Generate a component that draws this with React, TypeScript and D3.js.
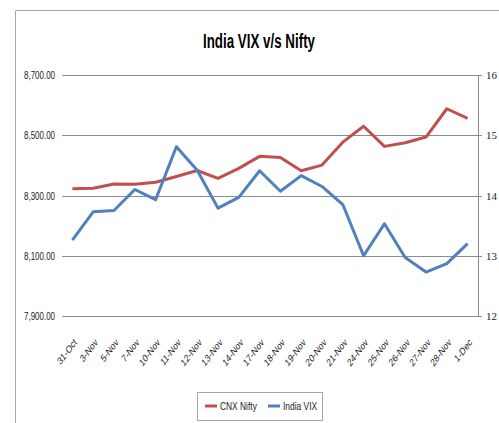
import * as d3 from 'd3';
import React, { useEffect, useRef } from 'react';

const dates = ['31-Oct', '3-Nov', '5-Nov', '7-Nov', '10-Nov', '11-Nov', '12-Nov', '13-Nov', '14-Nov', '17-Nov',
  '18-Nov', '19-Nov', '20-Nov', '21-Nov', '24-Nov', '25-Nov', '26-Nov', '27-Nov', '28-Nov', '1-Dec'];
const nifty = [8322, 8324, 8338, 8337, 8344, 8363, 8383, 8357, 8390, 8430,
  8426, 8382, 8401, 8477, 8530, 8463, 8475, 8494, 8588, 8556];
const vix = [13.26, 13.73, 13.75, 14.1, 13.93, 14.81, 14.42, 13.79, 13.97, 14.41,
  14.07, 14.33, 14.15, 13.85, 13.0, 13.53, 12.97, 12.73, 12.87, 13.2];
const leftTicks = [7900, 8100, 8300, 8500, 8700];
const rightTicks = [12, 13, 14, 15, 16];

const RED = '#c0504d';
const BLUE = '#4f81bd';
const sans = '"Liberation Sans", Arial, sans-serif';
// the original looks squeezed sideways, so text is narrowed with a scaleX
const SQ = 0.76;

const App = () => {
  const ref = useRef<SVGSVGElement>(null);

  useEffect(() => {
    if (!ref.current) return;
    const svg = d3.select(ref.current);
    svg.selectAll('*').remove();

    const W = 499, H = 423;
    const plot = { left: 62, right: 478, top: 75, bottom: 316 };

    // chart frame (only left and top edges are visible)
    svg.append('path').attr('d', `M15.5,${H} V10.5 H${W}`).attr('fill', 'none').attr('stroke', '#a6a6a6');

    // title
    svg.append('text').attr('x', 259).attr('y', 48).attr('text-anchor', 'middle')
      .attr('font-family', sans).attr('font-weight', 'bold').attr('font-size', 20)
      .attr('textLength', 112).attr('lengthAdjust', 'spacingAndGlyphs')
      .attr('fill', '#000').text('India VIX v/s Nifty');

    const x = d3.scaleBand().domain(dates).range([plot.left, plot.right]);
    const cx = (d: string) => (x(d) as number) + x.bandwidth() / 2;
    const yL = d3.scaleLinear().domain([7900, 8700]).range([plot.bottom, plot.top]);
    const yR = d3.scaleLinear().domain([12, 16]).range([plot.bottom, plot.top]);

    // gridlines
    svg.append('g').selectAll('line').data(leftTicks).join('line')
      .attr('x1', plot.left).attr('x2', plot.right)
      .attr('y1', d => Math.round(yL(d)) + 0.5).attr('y2', d => Math.round(yL(d)) + 0.5)
      .attr('stroke', '#8c8c8c').attr('stroke-width', 1);

    // left labels
    svg.append('g').selectAll('text').data(leftTicks).join('text')
      .attr('transform', d => `translate(55,${yL(d) + 4}) scale(${SQ},1)`).attr('text-anchor', 'end')
      .attr('font-family', sans).attr('font-size', 10.5).attr('fill', '#222')
      .text(d => d3.format(',.2f')(d));

    // right axis
    const rAxis = svg.append('g');
    rAxis.append('line').attr('x1', plot.right + 0.5).attr('x2', plot.right + 0.5)
      .attr('y1', plot.top).attr('y2', plot.bottom + 1).attr('stroke', '#8c8c8c');
    rAxis.selectAll('line.t').data(rightTicks).join('line').attr('class', 't')
      .attr('x1', plot.right).attr('x2', plot.right + 4)
      .attr('y1', d => Math.round(yR(d)) + 0.5).attr('y2', d => Math.round(yR(d)) + 0.5)
      .attr('stroke', '#8c8c8c');
    rAxis.selectAll('text').data(rightTicks).join('text')
      .attr('x', 486).attr('y', d => yR(d) + 4)
      .attr('font-family', '"Liberation Serif", serif').attr('font-size', 11).attr('fill', '#222')
      .text(d => d);

    // category labels
    svg.append('g').selectAll('text').data(dates).join('text')
      .attr('transform', d => `translate(${cx(d) + 5},${plot.bottom + 27}) scale(${SQ},1) rotate(-45)`)
      .attr('text-anchor', 'end')
      .attr('font-family', sans).attr('font-size', 10.5).attr('fill', '#222')
      .text(d => d);

    // lines
    const lineL = d3.line<number>().x((_, i) => cx(dates[i])).y(d => yL(d));
    const lineR = d3.line<number>().x((_, i) => cx(dates[i])).y(d => yR(d));
    svg.append('path').datum(nifty).attr('d', lineL).attr('fill', 'none')
      .attr('stroke', RED).attr('stroke-width', 3).attr('stroke-linejoin', 'round');
    svg.append('path').datum(vix).attr('d', lineR).attr('fill', 'none')
      .attr('stroke', BLUE).attr('stroke-width', 3).attr('stroke-linejoin', 'round');

    // legend
    const lg = svg.append('g');
    lg.append('rect').attr('x', 197.5).attr('y', 392.5).attr('width', 125).attr('height', 28)
      .attr('fill', '#fff').attr('stroke', '#a6a6a6');
    const items = [{ name: 'CNX Nifty', color: RED, x: 205 }, { name: 'India VIX', color: BLUE, x: 268 }];
    items.forEach(it => {
      lg.append('line').attr('x1', it.x).attr('x2', it.x + 12).attr('y1', 406).attr('y2', 406)
        .attr('stroke', it.color).attr('stroke-width', 3);
      lg.append('text').attr('transform', `translate(${it.x + 15},410) scale(0.8,1)`)
        .attr('font-family', sans).attr('font-size', 10.5).attr('fill', '#222').text(it.name);
    });
  }, []);

  return (
    <div style={{ position: 'absolute', left: 0, top: 0 }}>
      <svg ref={ref} width={499} height={423} style={{ display: 'block' }} />
    </div>
  );
};

export default App;
